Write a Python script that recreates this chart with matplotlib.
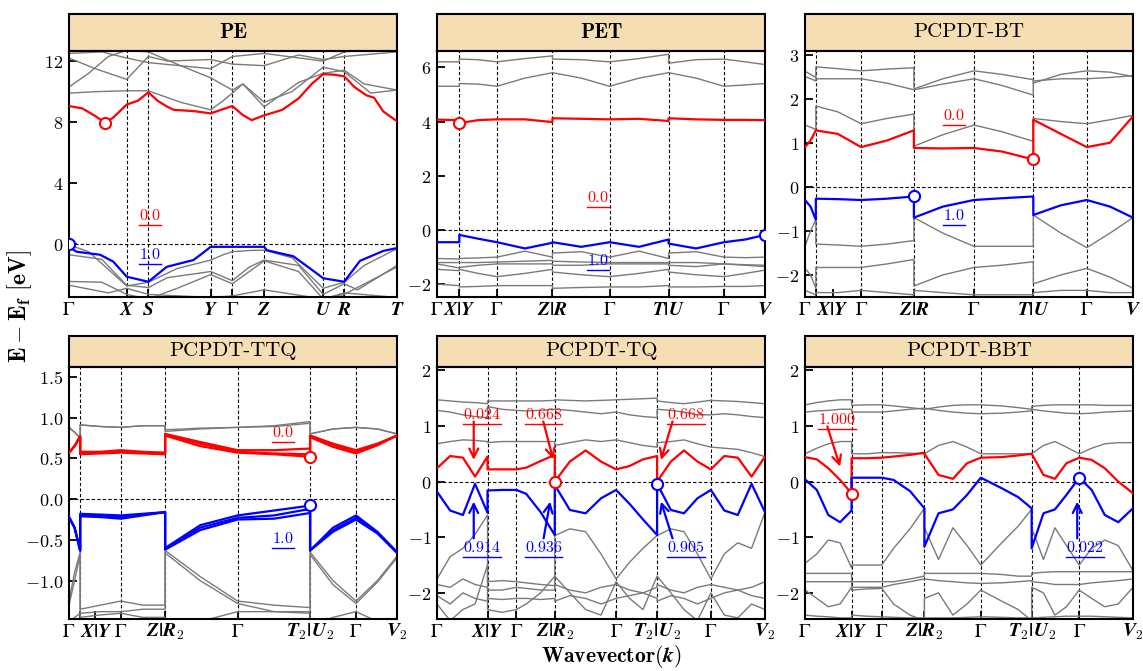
import numpy as np
import matplotlib
matplotlib.use('Agg')
import matplotlib.pyplot as plt
from matplotlib.patches import Rectangle
from matplotlib.lines import Line2D
from matplotlib.transforms import IdentityTransform

plt.rcParams['mathtext.fontset'] = 'cm'
plt.rcParams['axes.linewidth'] = 1.5

G = r'$\mathrm{Γ}$'

# ---------------- PE ----------------
PE_TICKS = [0, 0.176, 0.242, 0.432, 0.498, 0.595, 0.775, 0.839, 1.0]
PE_LABELS = [G, r'$\mathbfit{X}$', r'$\mathbfit{S}$', r'$\mathbfit{Y}$', G,
             r'$\mathbfit{Z}$', r'$\mathbfit{U}$', r'$\mathbfit{R}$', r'$\mathbfit{T}$']
PE_CB_K = [0, 0.04, 0.08, 0.11, 0.135, 0.176, 0.21, 0.242, 0.27, 0.30, 0.32, 0.38, 0.432,
           0.47, 0.498, 0.53, 0.557, 0.595, 0.65, 0.70, 0.74, 0.775, 0.81, 0.839, 0.87,
           0.907, 0.93, 0.958, 1.0]
PE_CB_E = [9.05, 8.9, 8.4, 7.95, 8.3, 9.15, 9.4, 9.95, 9.4, 9.0, 8.8, 8.72, 8.57,
           8.85, 9.05, 8.46, 8.13, 8.44, 8.8, 9.55, 10.5, 11.15, 11.1, 11.0, 10.3,
           9.75, 9.6, 8.7, 8.05]
PE_VB_K = [0, 0.008, 0.023, 0.095, 0.135, 0.176, 0.242, 0.298, 0.379, 0.41, 0.432, 0.498,
           0.595, 0.603, 0.684, 0.735, 0.775, 0.839, 0.887, 0.958, 1.0]
PE_VB_E = [0.0, -0.3, -0.5, -0.7, -1.15, -2.14, -2.47, -1.49, -1.05, -0.55, -0.18, -0.18,
           -0.18, -0.4, -0.8, -1.6, -2.24, -2.47, -1.1, -0.45, -0.26]
PE_GRAY_K = [
    [0, 0.09, 0.176, 0.242, 0.34, 0.432, 0.47, 0.498, 0.53, 0.595, 0.68, 0.775, 0.839, 0.92, 1.0],
    [0, 0.06, 0.12, 0.176, 0.242, 0.34, 0.432, 0.498, 0.53, 0.595, 0.7, 0.775, 0.839, 0.9, 1.0],
    [0, 0.08, 0.176, 0.242, 0.3, 0.432, 0.498, 0.595, 0.7, 0.775, 0.839, 1.0],
    [0, 0.1, 0.176, 0.242, 0.432, 0.498, 0.595, 0.775, 0.839, 1.0],
    [0, 0.06, 0.176, 0.242, 0.33, 0.432, 0.47, 0.498, 0.55, 0.595, 0.68, 0.775, 0.839, 0.9, 1.0],
    [0, 0.1, 0.176, 0.242, 0.3, 0.432, 0.498, 0.55, 0.595, 0.7, 0.775, 0.839, 0.88, 1.0],
    [0, 0.1, 0.176, 0.242, 0.33, 0.432, 0.498, 0.595, 0.7, 0.775, 0.839, 1.0],
    [0, 0.12, 0.176, 0.242, 0.432, 0.498, 0.595, 0.775, 0.839, 1.0],
]
PE_GRAY_E = [
    [9.9, 10.0, 10.05, 10.05, 9.3, 8.8, 9.4, 9.9, 10.5, 9.3, 10.0, 11.6, 11.3, 9.9, 10.1],
    [10.3, 11.2, 12.3, 12.7, 12.6, 11.7, 10.9, 10.1, 10.5, 9.0, 10.6, 11.2, 11.4, 10.5, 10.1],
    [12.2, 11.5, 10.8, 12.3, 12.0, 12.1, 11.8, 11.7, 12.4, 12.1, 12.3, 12.6],
    [12.5, 12.6, 12.2, 11.9, 11.5, 12.3, 12.5, 12.0, 12.6, 13.0],
    [-0.05, -0.5, -2.75, -2.5, -1.6, -1.05, -0.7, -0.5, -0.42, -0.4, -0.9, -2.9, -2.5, -1.4, -0.3],
    [-0.7, -1.0, -2.7, -2.85, -2.2, -1.8, -2.4, -1.5, -1.05, -1.4, -3.3, -2.6, -3.0, -1.4],
    [-2.45, -2.5, -3.3, -3.6, -2.9, -2.0, -2.6, -1.1, -1.8, -3.6, -3.3, -1.5],
    [-2.7, -3.2, -2.9, -3.3, -3.5, -3.4, -3.0, -3.6, -3.2, -3.5],
]

# ---------------- PET ----------------
PET_TICKS = [0, 0.068, 0.183, 0.352, 0.526, 0.706, 0.875, 1.0]
PET_LABELS = [G, r'$\mathbfit{X|Y}$', G, r'$\mathbfit{Z|R}$', G, r'$\mathbfit{T|U}$', G,
              r'$\mathbfit{V}$']
PET_K = [0, 0.068, 0.068, 0.125, 0.183, 0.268, 0.352, 0.352, 0.44, 0.526, 0.616, 0.706,
         0.706, 0.79, 0.875, 0.94, 1.0]
PET_CB = [4.07, 4.05, 3.94, 4.05, 4.08, 4.08, 3.98, 4.12, 4.1, 4.08, 4.1, 4.02,
          4.12, 4.08, 4.06, 4.06, 4.05]
PET_VB = [-0.45, -0.45, -0.18, -0.32, -0.45, -0.68, -0.47, -0.45, -0.62, -0.45, -0.62, -0.35,
          -0.5, -0.68, -0.45, -0.35, -0.18]
PET_GRAY = [
    [6.2, 6.2, 6.3, 6.28, 6.2, 6.32, 6.42, 6.3, 6.28, 6.2, 6.32, 6.48, 6.15, 6.28, 6.3, 6.2, 6.1],
    [5.3, 5.3, 5.4, 5.38, 5.3, 5.6, 5.8, 5.8, 5.6, 5.3, 5.6, 5.8, 5.8, 5.6, 5.3, 5.35, 5.4],
    [-1.05, -1.07, -1.05, -1.03, -1.0, -0.78, -1.0, -0.85, -0.8, -1.0, -0.78, -1.05, -0.85, -0.8, -1.0, -1.02, -1.0],
    [-1.2, -1.2, -1.2, -1.2, -1.18, -1.15, -1.12, -1.15, -1.18, -1.2, -1.2, -1.2, -1.2, -1.2, -1.25, -1.28, -1.3],
    [-1.25, -1.4, -1.38, -1.3, -1.25, -1.25, -1.25, -1.3, -1.3, -1.25, -1.25, -1.25, -1.3, -1.35, -1.25, -1.3, -1.35],
    [-1.45, -1.5, -1.45, -1.6, -1.72, -1.6, -1.45, -1.55, -1.65, -1.72, -1.6, -1.45, -1.55, -1.65, -1.72, -1.6, -1.48],
    [-2.0, -2.05, -2.1, -2.08, -2.05, -2.05, -2.05, -2.15, -2.12, -2.1, -2.1, -2.05, -2.1, -2.1, -2.08, -2.08, -2.05],
]

# ---------------- PCPDT-BT ----------------
BT_TICKS = [0, 0.033, 0.171, 0.332, 0.515, 0.696, 0.859, 1.0]
BT_LABELS = [G, r'$\mathbfit{X|Y}$', G, r'$\mathbfit{Z|R}$', G, r'$\mathbfit{T|U}$', G,
             r'$\mathbfit{V}$']
BT_K = [0, 0.017, 0.033, 0.033, 0.1, 0.171, 0.25, 0.332, 0.332, 0.42, 0.515, 0.6, 0.696,
        0.696, 0.78, 0.859, 0.93, 1.0]
BT_CB = [0.9, 1.05, 1.28, 1.28, 1.2, 0.9, 1.05, 1.28, 0.88, 0.87, 0.88, 0.8, 0.62,
         1.52, 1.2, 0.9, 1.0, 1.6]
BT_VB = [-0.3, -0.45, -0.75, -0.27, -0.28, -0.3, -0.27, -0.22, -0.7, -0.45, -0.3, -0.26, -0.22,
         -0.64, -0.42, -0.3, -0.45, -0.7]
BT_GRAY = [
    [2.62, 2.55, 2.48, 2.72, 2.68, 2.63, 2.67, 2.7, 2.22, 2.45, 2.63, 2.55, 2.43, 2.35, 2.55, 2.63, 2.6, 2.5],
    [2.5, 2.45, 2.4, 2.45, 2.45, 2.45, 2.35, 2.2, 2.2, 2.33, 2.45, 2.3, 2.08, 2.4, 2.45, 2.45, 2.48, 2.52],
    [1.4, 1.35, 1.3, 1.83, 1.7, 1.43, 1.55, 1.65, 0.92, 1.18, 1.4, 1.25, 1.03, 1.55, 1.48, 1.43, 1.52, 1.62],
    [-1.35, -1.0, -0.75, -1.3, -1.32, -1.35, -1.3, -1.22, -0.7, -1.05, -1.35, -1.35, -1.35, -0.64, -1.05, -1.38, -1.05, -0.7],
    [-1.85, -2.0, -2.3, -1.83, -1.83, -1.83, -1.75, -1.65, -2.25, -2.0, -1.83, -1.78, -1.7, -2.2, -2.0, -1.85, -2.05, -2.3],
    [-2.35, -2.4, -2.45, -2.4, -2.4, -2.35, -2.4, -2.45, -2.35, -2.4, -2.45, -2.45, -2.45, -2.4, -2.35, -2.35, -2.4, -2.4],
]

# ---------------- PCPDT-TTQ ----------------
TTQ_TICKS = [0, 0.034, 0.158, 0.293, 0.514, 0.735, 0.875, 1.0]
TTQ_LABELS = [G, r'$\mathbfit{X|Y}$', G, r'$\mathbfit{Z|R}_\mathbf{2}$', G,
              r'$\mathbfit{T}_\mathbf{2}\mathbfit{|U}_\mathbf{2}$', G, r'$\mathbfit{V}_\mathbf{2}$']
TTQ_K = [0, 0.017, 0.034, 0.034, 0.096, 0.158, 0.225, 0.293, 0.293, 0.4, 0.514, 0.625, 0.735,
         0.735, 0.805, 0.875, 0.94, 1.0]
TTQ_CB = [
    [0.57, 0.65, 0.77, 0.58, 0.58, 0.6, 0.58, 0.57, 0.8, 0.7, 0.6, 0.6, 0.62, 0.78, 0.68, 0.6, 0.68, 0.78],
    [0.57, 0.65, 0.77, 0.55, 0.56, 0.57, 0.56, 0.55, 0.78, 0.65, 0.57, 0.55, 0.52, 0.76, 0.64, 0.56, 0.66, 0.78],
    [0.57, 0.65, 0.77, 0.56, 0.57, 0.58, 0.57, 0.56, 0.79, 0.68, 0.58, 0.56, 0.55, 0.77, 0.66, 0.58, 0.67, 0.78],
]
TTQ_VB = [
    [-0.22, -0.35, -0.63, -0.18, -0.19, -0.2, -0.18, -0.16, -0.6, -0.32, -0.2, -0.14, -0.08, -0.63, -0.35, -0.2, -0.4, -0.65],
    [-0.22, -0.35, -0.63, -0.21, -0.22, -0.24, -0.2, -0.16, -0.62, -0.38, -0.25, -0.24, -0.17, -0.63, -0.4, -0.25, -0.42, -0.66],
    [-0.22, -0.35, -0.63, -0.2, -0.2, -0.22, -0.19, -0.16, -0.61, -0.35, -0.23, -0.2, -0.12, -0.63, -0.38, -0.23, -0.41, -0.65],
]
TTQ_GRAY = [
    [0.88, 0.82, 0.75, 0.91, 0.89, 0.88, 0.9, 0.9, 0.83, 0.86, 0.88, 0.9, 0.95, 0.8, 0.86, 0.88, 0.86, 0.8],
    [0.88, 0.82, 0.75, 0.91, 0.89, 0.88, 0.9, 0.9, 0.85, 0.87, 0.88, 0.89, 0.93, 0.8, 0.86, 0.88, 0.86, 0.8],
    [-1.25, -0.9, -0.65, -1.35, -1.3, -1.25, -1.3, -1.3, -0.63, -0.95, -1.25, -1.3, -1.33, -0.65, -1.0, -1.25, -1.0, -0.7],
    [-1.3, -1.0, -0.68, -1.4, -1.38, -1.38, -1.35, -1.35, -0.66, -1.0, -1.28, -1.38, -1.38, -0.68, -1.05, -1.28, -1.02, -0.72],
    [-1.5, -1.45, -1.4, -1.45, -1.42, -1.4, -1.45, -1.45, -1.6, -1.5, -1.38, -1.38, -1.4, -1.55, -1.45, -1.38, -1.5, -1.55],
]

# ---------------- PCPDT-TQ ----------------
TQ_TICKS = [0, 0.154, 0.242, 0.359, 0.546, 0.671, 0.835, 1.0]
TQ_LABELS = [G, r'$\mathbfit{X|Y}$', G, r'$\mathbfit{Z|R}_\mathbf{2}$', G,
             r'$\mathbfit{T}_\mathbf{2}\mathbfit{|U}_\mathbf{2}$', G, r'$\mathbfit{V}_\mathbf{2}$']
TQ_K = [0, 0.04, 0.079, 0.116, 0.154,
        0.154, 0.198, 0.242, 0.272, 0.316, 0.359,
        0.359, 0.405, 0.453, 0.5, 0.546, 0.587, 0.628, 0.671,
        0.671, 0.713, 0.753, 0.794, 0.835, 0.876, 0.917, 0.959, 1.0]
TQ_CB = [0.24, 0.46, 0.43, 0.09, 0.45,
         0.22, 0.22, 0.22, 0.25, 0.37, 0.48,
         0.0, 0.36, 0.56, 0.36, 0.22, 0.28, 0.4, 0.46,
         0.0, 0.36, 0.56, 0.36, 0.22, 0.46, 0.43, 0.09, 0.45]
TQ_VB = [-0.18, -0.52, -0.6, -0.04, -0.56,
         -0.16, -0.15, -0.15, -0.22, -0.55, -0.96,
         -0.06, -0.51, -0.57, -0.3, -0.15, -0.4, -0.68, -0.96,
         -0.04, -0.51, -0.57, -0.3, -0.15, -0.52, -0.6, -0.04, -0.55]
TQ_GRAY = [
    [1.47, 1.45, 1.43, 1.42, 1.4, 1.45, 1.45, 1.45, 1.45, 1.45, 1.46, 1.47, 1.46, 1.45, 1.46, 1.47, 1.48, 1.49, 1.5,
     1.45, 1.42, 1.4, 1.43, 1.46, 1.45, 1.44, 1.42, 1.4],
    [1.28, 1.25, 1.2, 1.17, 1.15, 1.35, 1.3, 1.28, 1.27, 1.28, 1.3, 1.3, 1.28, 1.25, 1.22, 1.25, 1.2, 1.17, 1.15,
     1.3, 1.28, 1.25, 1.2, 1.2, 1.22, 1.2, 1.17, 1.15],
    [0.68, 0.72, 0.75, 0.74, 0.72, 0.7, 0.72, 0.72, 0.72, 0.72, 0.72, 0.65, 0.7, 0.75, 0.72, 0.75, 0.7, 0.65, 0.62,
     0.7, 0.72, 0.75, 0.68, 0.62, 0.6, 0.58, 0.52, 0.45],
    [-1.75, -1.35, -1.2, -0.95, -0.6, -1.8, -1.78, -1.8, -1.82, -1.85, -1.87, -0.97, -0.85, -0.9, -1.3, -1.75, -1.45, -1.2, -0.97,
     -0.97, -0.85, -0.9, -1.3, -1.75, -1.3, -1.1, -1.2, -0.55],
    [-1.85, -1.9, -1.75, -1.85, -1.9, -1.95, -1.95, -1.9, -1.92, -1.95, -1.95, -1.85, -1.95, -2.0, -1.9, -1.85, -1.95, -2.0, -1.9,
     -1.85, -1.95, -2.0, -1.9, -1.85, -1.9, -1.95, -1.9, -1.8],
    [-2.05, -2.2, -2.0, -2.1, -2.15, -2.1, -2.12, -2.1, -2.1, -2.12, -2.1, -2.15, -2.05, -2.1, -2.2, -2.1, -2.05, -2.0, -2.1,
     -2.15, -2.05, -2.1, -2.2, -2.1, -2.0, -1.95, -2.05, -2.1],
    [-2.2, -2.5, -2.3, -2.2, -1.5, -2.3, -2.35, -2.3, -2.2, -2.0, -1.7, -1.7, -2.0, -2.3, -2.4, -1.8, -2.1, -2.3, -1.7,
     -1.7, -2.0, -2.3, -2.5, -2.0, -2.4, -2.45, -2.2, -2.3],
]

# ---------------- PCPDT-BBT ----------------
BBT_TICKS = [0, 0.142, 0.234, 0.364, 0.536, 0.691, 0.836, 1.0]
BBT_LABELS = TQ_LABELS
BBT_K = [0, 0.036, 0.071, 0.107, 0.142,
         0.142, 0.188, 0.234, 0.27, 0.32, 0.364,
         0.364, 0.407, 0.451, 0.494, 0.536, 0.6, 0.65, 0.691,
         0.691, 0.727, 0.762, 0.797, 0.836, 0.874, 0.914, 0.955, 1.0]
BBT_CB = [0.44, 0.40, 0.24, 0.03, -0.21,
          0.42, 0.42, 0.43, 0.45, 0.48, 0.52,
          0.5, 0.12, 0.05, 0.33, 0.43, 0.44, 0.47, 0.5,
          0.5, 0.12, 0.05, 0.33, 0.43, 0.39, 0.24, 0.0, -0.21]
BBT_VB = [0.04, -0.15, -0.6, -0.73, -0.52,
          0.07, 0.07, 0.07, 0.03, -0.17, -0.48,
          -1.17, -0.57, -0.5, -0.24, 0.07, -0.12, -0.28, -0.48,
          -1.2, -0.57, -0.5, -0.24, 0.07, -0.15, -0.6, -0.73, -0.48]
BBT_GRAY = [
    [1.38, 1.42, 1.45, 1.47, 1.47, 1.37, 1.38, 1.38, 1.36, 1.33, 1.3, 1.3, 1.34, 1.37, 1.38, 1.38, 1.36, 1.33, 1.3,
     1.35, 1.37, 1.38, 1.38, 1.38, 1.38, 1.37, 1.37, 1.37],
    [1.25, 1.27, 1.28, 1.3, 1.3, 1.25, 1.25, 1.25, 1.27, 1.3, 1.32, 1.32, 1.28, 1.25, 1.23, 1.22, 1.23, 1.25, 1.27,
     1.3, 1.27, 1.25, 1.23, 1.22, 1.23, 1.25, 1.26, 1.27],
    [0.5, 0.6, 0.68, 0.72, 0.72, 0.5, 0.5, 0.52, 0.52, 0.51, 0.5, 0.5, 0.65, 0.72, 0.62, 0.5, 0.5, 0.5, 0.5,
     0.5, 0.65, 0.72, 0.62, 0.5, 0.6, 0.68, 0.7, 0.7],
    [-1.47, -1.3, -1.05, -1.1, -1.55, -1.5, -1.5, -1.5, -1.2, -0.85, -0.48, -0.83, -1.4, -0.83, -1.15, -1.5, -1.1, -0.8, -0.5,
     -0.83, -1.4, -0.83, -1.15, -1.5, -1.2, -1.05, -1.15, -1.6],
    [-1.65, -1.65, -1.65, -1.65, -1.65, -1.8, -1.8, -1.8, -1.8, -1.75, -1.7, -1.65, -1.65, -1.65, -1.65, -1.65, -1.67, -1.7, -1.7,
     -1.65, -1.63, -1.62, -1.62, -1.62, -1.62, -1.62, -1.62, -1.62],
    [-1.8, -1.8, -1.8, -1.8, -1.8, -1.9, -1.9, -1.9, -1.85, -1.8, -1.75, -1.75, -1.78, -1.8, -1.82, -1.83, -1.82, -1.8, -1.78,
     -1.8, -1.82, -1.85, -1.85, -1.85, -1.82, -1.8, -1.78, -1.75],
    [-1.95, -2.1, -2.25, -2.2, -1.9, -1.95, -1.93, -1.92, -2.2, -2.4, -2.5, -2.1, -2.0, -2.4, -2.2, -1.95, -2.15, -2.3, -2.5,
     -1.9, -2.0, -2.4, -2.25, -1.95, -2.1, -2.25, -2.2, -1.9],
    [-2.4, -2.42, -2.43, -2.45, -2.45, -2.4, -2.42, -2.43, -2.44, -2.45, -2.45, -2.45, -2.45, -2.45, -2.44, -2.43, -2.44, -2.45, -2.45,
     -2.45, -2.44, -2.43, -2.42, -2.42, -2.42, -2.43, -2.44, -2.45],
]

RED = '#ff0000'
BLUE = '#0000ff'
GRAY = '#7a7a7a'
WHEAT = '#f5deb3'

W, H = 1143, 671
fig = plt.figure(figsize=(W / 100, H / 100), dpi=100)

col_left = [69, 437, 805]
col_w = 328
rows = [(51, 297, 37), (367, 619, 31)]  # plot top, plot bottom, title height (px)

underlined = []


def make_ax(r, c):
    top, bot, th = rows[r]
    ax = fig.add_axes([col_left[c] / W, 1 - bot / H, col_w / W, (bot - top) / H])
    hfrac = th / (bot - top)
    return ax, hfrac


def panel(ax, hfrac, title, bold, ticks, labels, ylim, yticks, ylabels):
    ax.set_xlim(0, 1)
    ax.set_ylim(*ylim)
    for t in ticks[1:-1]:
        ax.axvline(t, color='k', ls=(0, (3, 2)), lw=0.8, zorder=1)
    ax.axhline(0, color='k', ls=(0, (3, 2)), lw=0.8, zorder=1)
    ax.set_xticks(ticks)
    ax.set_xticklabels(labels)
    ax.set_yticks(yticks)
    ax.set_yticklabels([r'$\mathbf{%s}$' % s for s in ylabels])
    ax.tick_params(direction='in', length=6, width=1.3, labelsize=13, pad=4)
    ax.tick_params(axis='x', labelsize=14, pad=2)
    ax.tick_params(which='minor', direction='in', length=6, width=1.3)
    ax.add_patch(Rectangle((0, 1), 1, hfrac, transform=ax.transAxes, facecolor=WHEAT,
                           edgecolor='k', lw=1.5, clip_on=False))
    ax.text(0.5, 1 + hfrac / 2, title, transform=ax.transAxes, ha='center', va='center',
            fontsize=15, family='cmb10' if bold else 'cmr10')


def bands(ax, k, cb, vb, gray):
    for g in gray:
        ax.plot(k, g, color=GRAY, lw=1.0, zorder=2)
    for c in cb:
        ax.plot(k, c, color=RED, lw=1.6, zorder=3)
    for v in vb:
        ax.plot(k, v, color=BLUE, lw=1.6, zorder=3)


def marks(ax, cbm, vbm):
    ax.plot(*cbm, 'o', mfc='white', mec=RED, ms=8, mew=1.5, zorder=5)
    ax.plot(*vbm, 'o', mfc='white', mec=BLUE, ms=8, mew=1.5, zorder=5)


def label(ax, x, y, s, color):
    t = ax.text(x, y, r'$\mathbf{%s}$' % s, color=color, fontsize=11.5, ha='center',
                va='baseline', zorder=6)
    underlined.append((t, color))


def arrow(ax, tail, head, color):
    ax.annotate('', xy=head, xytext=tail,
                arrowprops=dict(arrowstyle='->', color=color, lw=1.6, shrinkA=0, shrinkB=0,
                                mutation_scale=16), zorder=6)


# PE
ax, hf = make_ax(0, 0)
panel(ax, hf, 'PE', True, PE_TICKS, PE_LABELS, (-3.47, 12.66), [0, 4, 8, 12],
      ['0', '4', '8', '12'])
for gk, ge in zip(PE_GRAY_K, PE_GRAY_E):
    ax.plot(gk, ge, color=GRAY, lw=1.0, zorder=2)
ax.plot(PE_CB_K, PE_CB_E, color=RED, lw=1.6, zorder=3)
ax.plot(PE_VB_K, PE_VB_E, color=BLUE, lw=1.6, zorder=3)
marks(ax, (0.11, 7.95), (0.0, -0.02))
label(ax, 0.247, 1.55, '0.0', RED)
label(ax, 0.247, -1.0, '1.0', BLUE)

# PET
ax, hf = make_ax(0, 1)
panel(ax, hf, 'PET', True, PET_TICKS, PET_LABELS, (-2.47, 6.6), [-2, 0, 2, 4, 6],
      ['-2', '0', '2', '4', '6'])
bands(ax, PET_K, [PET_CB], [PET_VB], PET_GRAY)
marks(ax, (0.068, 3.94), (1.0, -0.18))
label(ax, 0.49, 1.02, '0.0', RED)
label(ax, 0.49, -1.29, '1.0', BLUE)

# PCPDT-BT
ax, hf = make_ax(0, 2)
panel(ax, hf, 'PCPDT-BT', False, BT_TICKS, BT_LABELS, (-2.5, 3.08), [-2, -1, 0, 1, 2, 3],
      ['-2', '-1', '0', '1', '2', '3'])
bands(ax, BT_K, [BT_CB], [BT_VB], BT_GRAY)
ax.set_xticks([0.086], minor=True)
marks(ax, (0.696, 0.62), (0.332, -0.21))
label(ax, 0.454, 1.52, '0.0', RED)
label(ax, 0.454, -0.75, '1.0', BLUE)

# PCPDT-TTQ
ax, hf = make_ax(1, 0)
panel(ax, hf, 'PCPDT-TTQ', False, TTQ_TICKS, TTQ_LABELS, (-1.47, 1.62),
      [-1.0, -0.5, 0.0, 0.5, 1.0, 1.5], ['-1.0', '-0.5', '0.0', '0.5', '1.0', '1.5'])
bands(ax, TTQ_K, TTQ_CB, TTQ_VB, TTQ_GRAY)
ax.set_xticks([0.079], minor=True)
marks(ax, (0.735, 0.52), (0.735, -0.07))
label(ax, 0.653, 0.76, '0.0', RED)
label(ax, 0.653, -0.54, '1.0', BLUE)

# PCPDT-TQ
ax, hf = make_ax(1, 1)
panel(ax, hf, 'PCPDT-TQ', False, TQ_TICKS, TQ_LABELS, (-2.47, 2.06), [-2, -1, 0, 1, 2],
      ['-2', '-1', '0', '1', '2'])
bands(ax, TQ_K, [TQ_CB], [TQ_VB], TQ_GRAY)
marks(ax, (0.359, 0.0), (0.671, -0.05))
for x, s, tail, head in [(0.136, '0.024', (0.112, 1.08), (0.112, 0.39)),
                         (0.325, '0.668', (0.324, 1.08), (0.354, 0.40)),
                         (0.759, '0.668', (0.718, 1.08), (0.683, 0.39))]:
    label(ax, x, 1.13, s, RED)
    arrow(ax, tail, head, RED)
for x, s, tail, head in [(0.136, '0.914', (0.112, -1.02), (0.112, -0.36)),
                         (0.325, '0.936', (0.325, -1.02), (0.345, -0.36)),
                         (0.759, '0.905', (0.718, -1.02), (0.683, -0.36))]:
    label(ax, x, -1.26, s, BLUE)
    arrow(ax, tail, head, BLUE)

# PCPDT-BBT
ax, hf = make_ax(1, 2)
panel(ax, hf, 'PCPDT-BBT', False, BBT_TICKS, BBT_LABELS, (-2.47, 2.06), [-2, -1, 0, 1, 2],
      ['-2', '-1', '0', '1', '2'])
bands(ax, BBT_K, [BBT_CB], [BBT_VB], BBT_GRAY)
marks(ax, (0.142, -0.22), (0.836, 0.07))
label(ax, 0.097, 1.03, '1.000', RED)
arrow(ax, (0.068, 0.99), (0.107, 0.27), RED)
label(ax, 0.854, -1.26, '0.022', BLUE)
arrow(ax, (0.83, -1.02), (0.83, -0.36), BLUE)

# left-aligned X|Y labels in crowded panels
for a in (fig.axes[2], fig.axes[3]):
    a.get_xticklabels()[1].set_ha('left')

fig.text(20 / W, 1 - 306 / H, r'$\mathbf{E - E_f\ [eV]}$', rotation=90, ha='center',
         va='center', fontsize=17)
fig.text(611 / W, 1 - 657 / H, r'$\mathbf{Wavevector(}\mathbfit{k}\mathbf{)}$', ha='center',
         va='center', fontsize=15.5)

fig.canvas.draw()
for t, color in underlined:
    bb = t.get_window_extent()
    fig.add_artist(Line2D([bb.x0, bb.x1], [bb.y0 - 2, bb.y0 - 2], color=color, lw=1.0,
                          transform=IdentityTransform()))

fig.savefig('out.png', dpi=100)
